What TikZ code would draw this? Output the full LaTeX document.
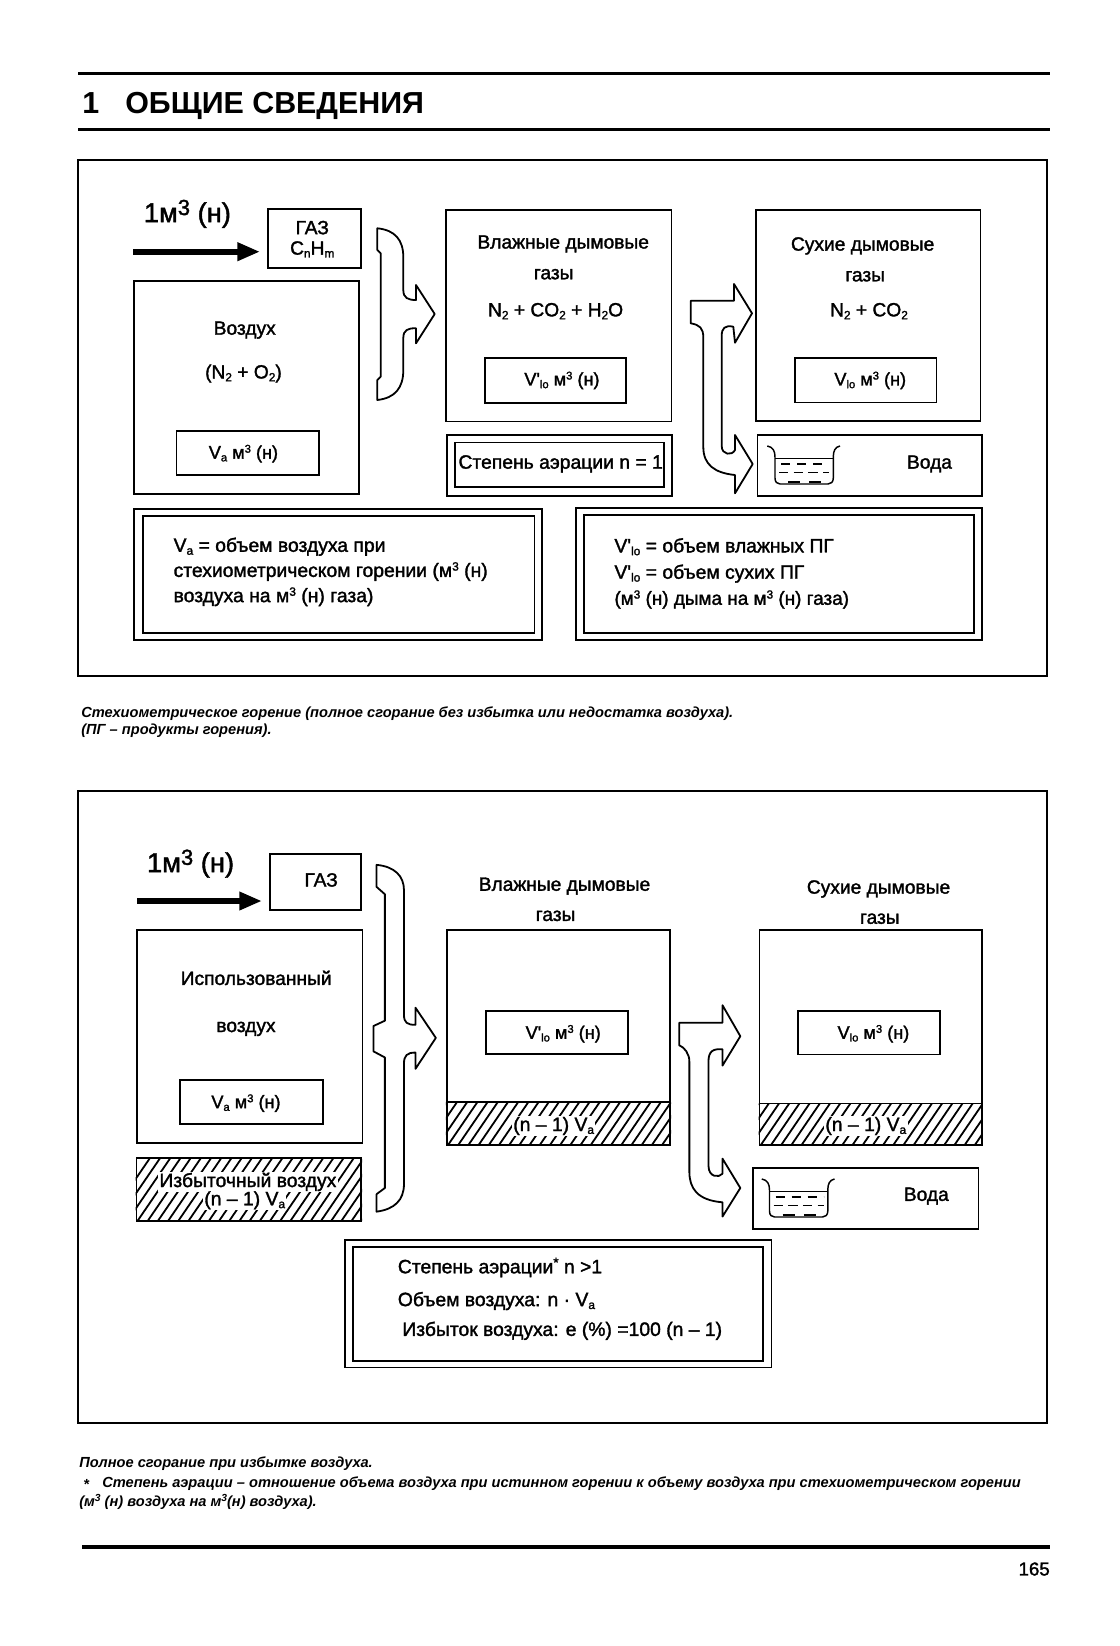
\documentclass[tikz,border=0pt]{standalone}
\usepackage{graphicx}
\usepackage{fontspec}
\setmainfont{Liberation Sans}
\newfontfamily\bodyfont[FakeBold=1.6]{Liberation Sans}
\newfontfamily\headfont{Liberation Sans Bold}
\newfontfamily\notefont[BoldFont={Liberation Sans Bold Italic},ItalicFont={Liberation Sans Bold Italic}]{Liberation Sans Bold Italic}
\usetikzlibrary{fit,arrows.meta}
\newcommand\subs[1]{\raisebox{-.28ex}{\scalebox{.62}{#1}}}
\newcommand\sups[1]{\raisebox{.62ex}{\scalebox{.62}{#1}}}
\newcommand\bx[6][box]{\node[#1,fit={(#3,#4)(#5,#6)}] (#2) {};}
\newcommand\hatchbx[5]{%
  \bx[box]{#1}{#2}{#3}{#4}{#5}
  \begin{scope}
    \clip (#1.south west) rectangle (#1.north east);
    \foreach \i in {0,...,44}{
      \pgfmathsetmacro\xa{#2-46+\i*16}
      \pgfmathsetmacro\xb{\xa+46*(#5-#3)/105}
      \draw[hatchline] (\xa,#5) -- (\xb,#3);
    }
  \end{scope}}
\newcommand\beaker[2]{%
  \begin{scope}[shift={(#1,#2)}]
    \draw[line width=1.1pt] (767.3,446) .. controls (773,447) and (775,451) .. (775,457) -- (775,478) .. controls (775,482) and (777,484) .. (780,484) -- (828,484) .. controls (831,484) and (833.3,482) .. (833.3,478) -- (833.3,457) .. controls (833.3,451) and (835,447) .. (840,446);
    \draw[line width=.9pt] (775,458.3) -- (833.3,458.3);
    \draw[line width=1pt,dash pattern=on 7pt off 5pt] (781,464) -- (829,464);
    \draw[line width=1pt,dash pattern=on 7pt off 4pt] (779,472.7) -- (829,472.7);
    \draw[line width=1.4pt,dash pattern=on 9pt off 7pt] (788,481.7) -- (822,481.7);
  \end{scope}}
\tikzset{
  box/.style={draw=black,line width=1.35pt,inner sep=0pt,rectangle},
  hatchline/.style={line width=1.35pt,line cap=butt},
  blockarrow/.style={draw=black,line width=1.35pt,line join=round,fill=white},
  tx/.style={inner sep=0pt,font=\bodyfont\fontsize{14.4}{16}\selectfont},
  txs/.style={inner sep=0pt,font=\bodyfont\fontsize{13.6}{16}\selectfont},
  txm/.style={inner sep=0pt,font=\bodyfont\fontsize{14.5}{16}\selectfont},
  txl/.style={inner sep=0pt,anchor=west,font=\bodyfont\fontsize{14.5}{16}\selectfont},
  big/.style={inner sep=0pt,font=\bodyfont\fontsize{20.5}{22}\selectfont},
  note/.style={inner sep=0pt,anchor=west,font=\notefont\fontsize{10.97}{12}\selectfont},
  head/.style={inner sep=0pt,anchor=base west,font=\headfont\fontsize{22.8}{24}\selectfont},
  halo/.style={fill=white,inner xsep=1pt,inner ysep=.5pt},
  rule/.style={line width=2.6pt},
  inarrow/.style={line width=4.2pt,-{Triangle[length=17pt,width=13pt]},shorten >=5.5pt}
}
\begin{document}
\begin{tikzpicture}[x=.75pt,y=-.75pt]
\fill[white] (0,0) rectangle (1120,1646);
\useasboundingbox (0,0) rectangle (1120,1646);
% heading
\coordinate (r1a) at (78,73.3); \coordinate (r1b) at (1050,73.3);
\coordinate (r2a) at (78,129.5); \coordinate (r2b) at (1050,129.5);
\draw[rule] (r1a) -- (r1b);
\draw[rule] (r2a) -- (r2b);
\node[head] (hnum) at (82,113) {1};
\node[head] (htitle) at (125,113) {ОБЩИЕ СВЕДЕНИЯ};
% ---------- first panel
\begin{scope}[shift={(60,150)},x=.47775pt,y=-.25875pt]
\bx[box]{frameA}{28}{30}{1550}{1525}
\bx[box]{gasA}{327}{170}{472}{343}
\bx[box]{airA}{116}{380}{470}{997}
\bx[box]{vaA}{183}{815}{407}{942}
\bx[box]{wetA}{606}{175}{960}{787}
\bx[box]{wetvA}{667}{603}{889}{733}
\bx[box]{drA}{1092}{175}{1445}{785}
\bx[box]{drvA}{1154}{602}{1376}{732}
\bx[box]{nA}{607}{826}{961}{1003}
\bx[box]{niA}{620}{848}{948}{977}
\bx[box]{waterA}{1095}{826}{1447}{1003}
\bx[box]{noteLA}{116}{1040}{757}{1420}
\bx[box]{noteLiA}{130}{1060}{745}{1400}
\bx[box]{noteRA}{810}{1038}{1447}{1420}
\bx[box]{noteRiA}{822}{1058}{1435}{1400}
\node[big] (oneA) at (200,185) {1м\raisebox{.5ex}{\scalebox{.8}{3}} (н)};
\node[tx] (g1A) at (396,225) {ГАЗ};
\node[tx] (g2A) at (396,288) {C\subs{n}H\subs{m}};
\node[tx] (a1A) at (290,522) {Воздух};
\node[tx] (a2A) at (288,648) {(N\subs{2} + O\subs{2})};
\node[txs] (vatA) at (288,880) {V\subs{a} м\sups{3} (н)};
\node[tx] (w1A) at (790,272) {Влажные дымовые};
\node[tx] (w2A) at (775,360) {газы};
\node[tx] (w3A) at (778,467) {N\subs{2} + CO\subs{2} + H\subs{2}O};
\node[txs] (wvtA) at (788,668) {V'\subs{lo} м\sups{3} (н)};
\node[tx] (d1A) at (1260,278) {Сухие дымовые};
\node[tx] (d2A) at (1264,366) {газы};
\node[tx] (d3A) at (1270,467) {N\subs{2} + CO\subs{2}};
\node[txs] (dvtA) at (1272,668) {V\subs{lo} м\sups{3} (н)};
\node[txm] (ntA) at (786,910) {Степень аэрации n = 1};
\node[tx] (wtA) at (1365,910) {Вода};
\node[txl] (l1A) at (178,1150) {V\subs{a} = объем воздуха при};
\node[txl] (l2A) at (178,1222) {стехиометрическом горении (м\sups{3} (н)};
\node[txl] (l3A) at (178,1295) {воздуха на м\sups{3} (н) газа)};
\node[txl] (r1A) at (870,1150) {V'\subs{lo} = объем влажных ПГ};
\node[txl] (r2A) at (870,1228) {V'\subs{lo} = объем сухих ПГ};
\node[txl,font=\bodyfont\fontsize{14.2}{16}\selectfont] (r3A) at (870,1303) {(м\sups{3} (н) дыма на м\sups{3} (н) газа)};
\end{scope}
\coordinate (inA) at (133,251.7);
\draw[inarrow] (inA) -- (inA -| gasA.west);
\draw[blockarrow] (377.3,228.3) .. controls (395,230) and (403.3,240) .. (403.3,257) -- (403.3,290) .. controls (403.3,298) and (408,300) .. (416,300) -- (416,285) -- (434.7,314) -- (416,343.3) -- (416,328.3) .. controls (408,328) and (403.3,330) .. (403.3,338) -- (403.3,370) .. controls (403.3,388) and (395,398) .. (377.3,400) -- (377.3,380) -- (380.7,376.7) -- (380.7,253.3) -- (377.3,250) -- cycle;
\draw[blockarrow] (690.7,300.7) -- (734,300.7) -- (734,284) -- (752,313.3) -- (735,342.7) -- (733.3,326.7) .. controls (725,325) and (721.7,328) .. (721.7,336) -- (721.7,446) .. controls (721.7,455) and (732,456) .. (735,450) -- (735,435) -- (752.7,464) -- (735,493.3) -- (735,475) .. controls (715,473) and (703.3,465) .. (703.3,447) -- (703.3,338) .. controls (703.3,328) and (700,325) .. (690.7,323.3) -- cycle;
\beaker{0}{0}
% captions
\node[note] (c1) at (81,714) {Стехиометрическое горение (полное сгорание без избытка или недостатка воздуха).};
\node[note] (c2) at (81,731) {(ПГ – продукты горения).};
% ---------- second panel
\begin{scope}[shift={(60,780)},x=.47775pt,y=-.306pt]
\bx[box]{frameB}{28}{27}{1550}{1575}
\bx[box]{gasB}{330}{182}{472}{318}
\bx[box]{airB}{121}{367}{475}{890}
\bx[box]{vaB}{188}{736}{413}{843}
\hatchbx{exB}{120}{926}{473}{1080}
\bx[box]{wetB}{607}{367}{958}{790}
\hatchbx{wethB}{607}{790}{958}{895}
\bx[box]{wetvB}{669}{567}{892}{672}
\bx[box]{drB}{1098}{367}{1447}{793}
\hatchbx{drhB}{1098}{793}{1447}{895}
\bx[box]{drvB}{1158}{567}{1381}{673}
\bx[box]{waterB}{1088}{950}{1442}{1100}
\bx[box]{noteB}{448}{1128}{1117}{1440}
\bx[box]{noteiB}{460}{1145}{1104}{1423}
\node[big] (oneB) at (205,205) {1м\raisebox{.5ex}{\scalebox{.8}{3}} (н)};
\node[tx] (g1B) at (410,245) {ГАЗ};
\node[tx] (a1B) at (308,485) {Использованный};
\node[tx] (a2B) at (292,610) {воздух};
\node[txs] (vatB) at (292,792) {V\subs{a} м\sups{3} (н)};
\node[txm,halo] (e1B) at (295,985) {Избыточный воздух};
\node[txm,halo] (e2B) at (290,1030) {(n – 1) V\subs{a}};
\node[tx] (w1B) at (792,260) {Влажные дымовые};
\node[tx] (w2B) at (778,333) {газы};
\node[txs] (wvtB) at (790,622) {V'\subs{lo} м\sups{3} (н)};
\node[txm,halo] (wntB) at (775,848) {(n – 1) V\subs{a}};
\node[tx] (d1B) at (1285,267) {Сухие дымовые};
\node[tx] (d2B) at (1287,340) {газы};
\node[txs] (dvtB) at (1277,622) {V\subs{lo} м\sups{3} (н)};
\node[txm,halo] (dntB) at (1265,848) {(n – 1) V\subs{a}};
\node[tx] (wtB) at (1360,1020) {Вода};
\node[txl] (n1B) at (530,1195) {Степень аэрации\raisebox{.6ex}{\scalebox{.7}{*}} n >1};
\node[txl] (n2B) at (530,1277) {Объем воздуха: n · V\subs{a}};
\node[txl] (n3B) at (537,1350) {Избыток воздуха: e (\%) =100 (n – 1)};
\draw[blockarrow] (497,208) .. controls (525,212) and (540,235) .. (540,270) -- (540,575) .. controls (540,595) and (545,600) .. (558,600) -- (558,558) -- (590,632) -- (558,708) -- (558,668) .. controls (545,668) and (540,675) .. (540,695) -- (540,990) .. controls (540,1030) and (525,1052) .. (497,1058) -- (497,1015) -- (510,1000) -- (510,680) -- (492,665) -- (492,603) -- (510,590) -- (510,280) -- (497,262) -- cycle;
\draw[blockarrow] (972,595) -- (1040,595) -- (1040,552) -- (1068,628) -- (1040,700) -- (1040,660) .. controls (1025,658) and (1018,665) .. (1018,690) -- (1018,945) .. controls (1018,975) and (1035,975) .. (1040,965) -- (1040,928) -- (1068,1000) -- (1040,1070) -- (1040,1035) .. controls (1000,1030) and (988,1000) .. (988,960) -- (988,690) .. controls (988,670) and (980,655) .. (972,650) -- cycle;
\end{scope}
\coordinate (inB) at (137,901);
\draw[inarrow] (inB) -- (inB -| gasB.west);
\beaker{-5.5}{733}
% notes
\node[note] (c3) at (79,1464) {Полное сгорание при избытке воздуха.};
\node[note] (c4a) at (83,1484) {*};
\node[note] (c4) at (102,1484) {Степень аэрации – отношение объема воздуха при истинном горении к объему воздуха при стехиометрическом горении};
\node[note] (c5) at (79,1502) {(м\raisebox{.6ex}{\scalebox{.7}{3}} (н) воздуха на м\raisebox{.6ex}{\scalebox{.7}{3}}(н) воздуха).};
\coordinate (r3a) at (82,1547); \coordinate (r3b) at (1050,1547);
\draw[rule] (r3a) -- (r3b);
\node[inner sep=0pt,anchor=east,font=\bodyfont\fontsize{14}{15}\selectfont] (pg) at (1050,1569) {165};
\end{tikzpicture}
\end{document}
